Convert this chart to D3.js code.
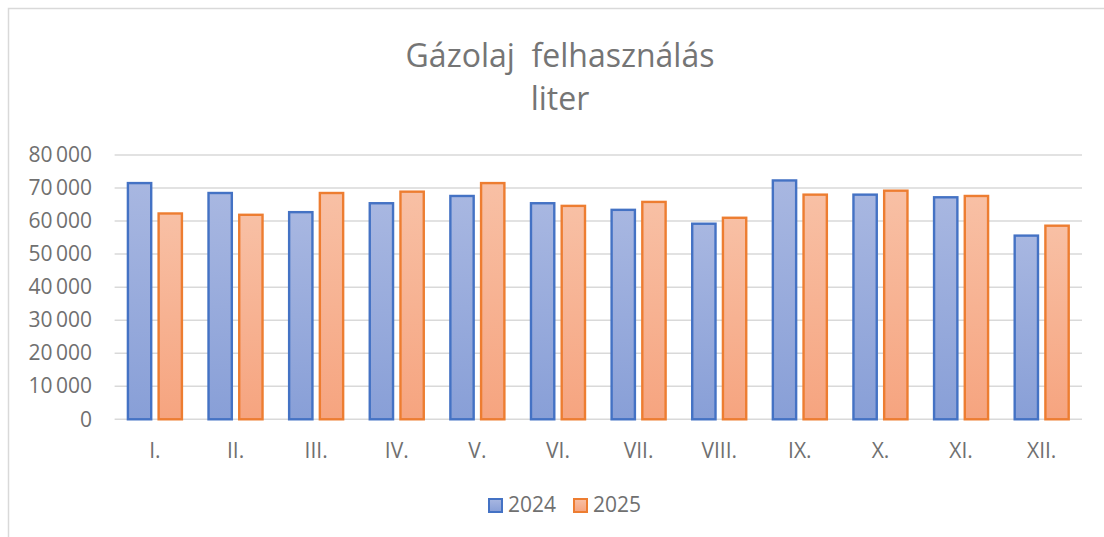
<!DOCTYPE html>
<html>
<head>
<meta charset="utf-8">
<script src="https://cdn.jsdelivr.net/npm/d3@7"></script>
<style>
  body { margin: 0; background: #fff; }
  text { font-family: "Open Sans", sans-serif; }
</style>
</head>
<body>
<div id="chart"></div>
<script>
(function(){
    var width = 1104;
    var height = 537;

    var months = ["I.", "II.", "III.", "IV.", "V.", "VI.", "VII.", "VIII.", "IX.", "X.", "XI.", "XII."];
    var series = ["2024", "2025"];
    var values2024 = [71500, 68500, 62700, 65400, 67600, 65400, 63400, 59200, 72300, 68000, 67200, 55600];
    var values2025 = [62300, 61900, 68500, 68900, 71500, 64600, 65800, 61000, 68000, 69200, 67600, 58600];
    var yTicks = [0, 10000, 20000, 30000, 40000, 50000, 60000, 70000, 80000];

    var svg = d3.select("#chart")
        .append("svg")
        .attr("width", width)
        .attr("height", height)

    var defs = svg.append("defs")

    var grads = [
        {id: "g2024", top: "#a8b7e1", bottom: "#889fd7", stroke: "#4472c4"},
        {id: "g2025", top: "#f8c0a5", bottom: "#f6a47f", stroke: "#ed7d31"}
    ]
    grads.forEach(function(g){
        var lg = defs.append("linearGradient")
            .attr("id", g.id)
            .attr("x1", 0).attr("y1", 0)
            .attr("x2", 0).attr("y2", 1)
        lg.append("stop").attr("offset", "0%").attr("stop-color", g.top)
        lg.append("stop").attr("offset", "100%").attr("stop-color", g.bottom)
    })

    // chart area border
    svg.append("rect")
        .attr("x", 8.5)
        .attr("y", 8.5)
        .attr("width", 1120)
        .attr("height", 560)
        .attr("fill", "none")
        .attr("stroke", "#d9d9d9")
        .attr("stroke-width", 1.5)

    // title
    var title = svg.append("text")
        .attr("text-anchor", "middle")
        .attr("fill", "#757575")
        .style("font-size", "32px")
        .style("white-space", "pre")
    title.append("tspan").attr("x", 560).attr("y", 67).text("Gázolaj  felhasználás")
    title.append("tspan").attr("x", 560).attr("y", 110).text("liter")

    var x = d3.scaleBand()
        .domain(months)
        .range([114.6, 1082])

    var y = d3.scaleLinear()
        .domain([0, 80000])
        .range([419.3, 155])

    var x1 = d3.scaleBand()
        .domain(series)
        .range([0, x.bandwidth()])
        .paddingInner(0.163)
        .paddingOuter(0.394)

    // gridlines
    svg.append("g")
        .selectAll("line")
        .data(yTicks)
        .enter().append("line")
        .attr("x1", x.range()[0])
        .attr("x2", x.range()[1])
        .attr("y1", function(d){ return y(d) })
        .attr("y2", function(d){ return y(d) })
        .attr("stroke", "#d9d9d9")
        .attr("stroke-width", 1.5)

    var fmt = function(d){
        return d3.format(",")(d).replace(/,/g, "\u2009")
    }

    var yAxis = svg.append("g")
        .attr("transform", "translate(92,0)")
        .call(d3.axisLeft(y).tickValues(yTicks).tickSize(0).tickPadding(0).tickFormat(fmt))
    yAxis.select(".domain").remove()
    yAxis.selectAll("text")
        .attr("fill", "#707070")
        .style("font-size", "21px")
        .style("font-family", "'Open Sans', sans-serif")

    var xAxis = svg.append("g")
        .attr("transform", "translate(0,458)")
        .call(d3.axisBottom(x).tickSize(0).tickPadding(0))
    xAxis.select(".domain").remove()
    xAxis.selectAll("text")
        .attr("dy", 0)
        .attr("fill", "#707070")
        .style("font-size", "21px")
        .style("font-family", "'Open Sans', sans-serif")

    var data = months.map(function(m, i){
        return {month: m, vals: [
            {key: "2024", value: values2024[i]},
            {key: "2025", value: values2025[i]}
        ]}
    })

    var groups = svg.selectAll(".month")
        .data(data)
        .enter().append("g")
        .attr("class", "month")
        .attr("transform", function(d){ return "translate(" + x(d.month) + ",0)" })

    groups.selectAll("rect")
        .data(function(d){ return d.vals })
        .enter().append("rect")
        .attr("x", function(d){ return x1(d.key) + 1.2 })
        .attr("width", x1.bandwidth() - 2.4)
        .attr("y", function(d){ return y(d.value) })
        .attr("height", function(d){ return y(0) - y(d.value) })
        .attr("fill", function(d){ return "url(#g" + d.key + ")" })
        .attr("stroke", function(d){ return d.key == "2024" ? "#4472c4" : "#ed7d31" })
        .attr("stroke-width", 2.4)

    // legend
    var legend = svg.append("g")
    var legX = [489, 574]
    series.forEach(function(s, i){
        legend.append("rect")
            .attr("x", legX[i])
            .attr("y", 499)
            .attr("width", 13)
            .attr("height", 13)
            .attr("fill", "url(#g" + s + ")")
            .attr("stroke", grads[i].stroke)
            .attr("stroke-width", 2)
        legend.append("text")
            .attr("x", legX[i] + 19)
            .attr("y", 512)
            .attr("fill", "#707070")
            .style("font-size", "21px")
            .text(s)
    })
})();
</script>
</body>
</html>
